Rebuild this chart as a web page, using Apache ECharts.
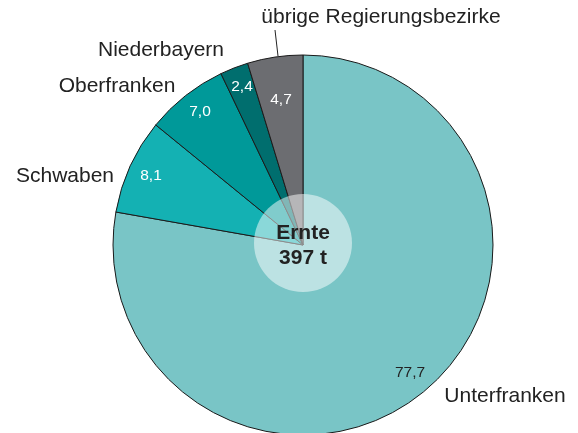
<!DOCTYPE html>
<html><head><meta charset="utf-8">
<script src="https://cdn.jsdelivr.net/npm/echarts@6/dist/echarts.min.js"></script>
<style>html,body{margin:0;padding:0;background:#fff}#c{width:578px;height:433px}</style>
</head><body><div id="c"></div>
<script>
const categories = ['Unterfranken', 'Schwaben', 'Oberfranken', 'Niederbayern', 'übrige Regierungsbezirke'];
const values = [77.7, 8.1, 7.0, 2.4, 4.7];
const colors = ['#79C5C6', '#14B1B3', '#009999', '#006E6E', '#6C6D71'];
const centerText = ['Ernte', '397 t'];

const valueLabelPos = [[410, 373], [151, 176], [200, 112], [242, 87], [281, 100]];
const valueLabelColor = ['#222', '#fff', '#fff', '#fff', '#fff'];
const nameLabelPos = [[505, 396], [65, 176], [117, 86], [161, 50], [381, 17]];

const chart = echarts.init(document.getElementById('c'));
const font = 'Liberation Sans, Arial, sans-serif';
chart.setOption({
  animation: false,
  series: [
    {
      type: 'pie', center: [303, 245], radius: 190, startAngle: 90, clockwise: true,
      silent: true,
      data: categories.map((n, i) => ({
        name: n, value: values[i],
        itemStyle: { color: colors[i] },
        label: { color: valueLabelColor[i] }
      })),
      itemStyle: { borderColor: '#1a1a1a', borderWidth: 1 },
      label: {
        show: true, position: 'inside', fontFamily: font, fontSize: 15.5,
        formatter: p => p.value.toFixed(1).replace('.', ',')
      },
      labelLine: { show: false },
      labelLayout: p => ({ x: valueLabelPos[p.dataIndex][0], y: valueLabelPos[p.dataIndex][1], align: 'center', verticalAlign: 'middle' })
    },
    {
      type: 'pie', center: [303, 245], radius: 190, startAngle: 90, clockwise: true,
      silent: true, z: 3,
      data: categories.map((n, i) => ({
        name: n, value: values[i],
        labelLine: { show: i === 4 }
      })),
      itemStyle: { color: 'rgba(0,0,0,0)', borderWidth: 0 },
      label: {
        show: true, position: 'outside', fontFamily: font, fontSize: 21, color: '#222',
        formatter: p => p.name
      },
      labelLine: { show: false, length: 0, length2: 0, lineStyle: { color: '#222', width: 1 } },
      labelLayout: p => {
        const r = { x: nameLabelPos[p.dataIndex][0], y: nameLabelPos[p.dataIndex][1], align: 'center', verticalAlign: 'middle' };
        if (p.dataIndex === 4) r.labelLinePoints = [[278, 56], [276.5, 43], [275, 30]];
        return r;
      }
    },
    {
      type: 'pie', center: [303, 243], radius: 49, silent: true, z: 5,
      data: [{ value: 1, name: centerText.join('\n') }],
      itemStyle: { color: 'rgba(255,255,255,0.5)', borderWidth: 0 },
      label: {
        show: true, position: 'center', fontFamily: font, fontSize: 21, fontWeight: 'bold',
        color: '#222', lineHeight: 25, formatter: centerText.join('\n')
      },
      labelLine: { show: false },
      labelLayout: { dy: 3 }
    }
  ]
});
</script></body></html>
